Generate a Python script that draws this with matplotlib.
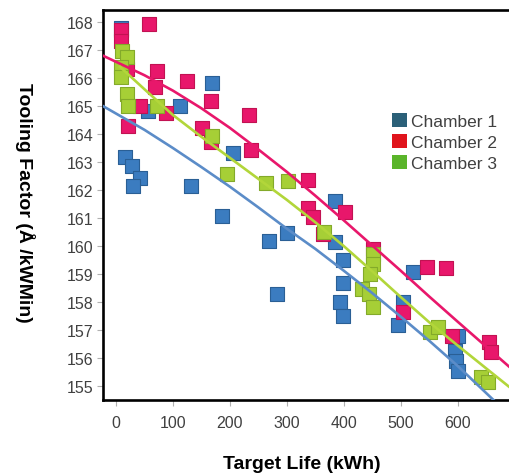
import numpy as np
import matplotlib.pyplot as plt
from matplotlib.patches import Patch

plt.rcParams['font.family'] = ['Liberation Sans', 'DejaVu Sans']

# 測定点 (Target Life [kWh], Tooling Factor)
ch1_x = [9, 168, 112, 56, 205, 16, 28, 42, 30, 132, 186, 268, 300, 282,
         384, 384, 398, 398, 393, 398, 521, 504, 495, 600, 595, 598, 600]
ch1_y = [167.8, 165.82, 165.0, 164.82, 163.32, 163.18, 162.86, 162.43, 162.14,
         162.14, 161.07, 160.18, 160.46, 158.29, 161.61, 160.14, 159.5, 158.68,
         158.0, 157.5, 159.07, 158.0, 157.18, 156.79, 156.25, 155.89, 155.54]

ch2_x = [9, 9, 58, 19, 72, 125, 68, 42, 88, 21, 167, 233, 151, 167, 237,
         337, 337, 346, 402, 363, 451, 546, 579, 505, 591, 656, 658]
ch2_y = [167.71, 167.32, 167.93, 166.32, 166.25, 165.89, 165.68, 165.0, 164.75,
         164.29, 165.18, 164.68, 164.21, 163.71, 163.43, 162.36, 161.36, 161.04,
         161.21, 160.43, 159.89, 159.25, 159.21, 157.64, 156.79, 156.57, 156.21]

ch3_x = [11, 19, 9, 9, 19, 21, 72, 168, 195, 263, 302, 365, 451, 451, 446,
         433, 444, 451, 551, 565, 642, 653]
ch3_y = [166.96, 166.75, 166.39, 166.04, 165.43, 165.0, 165.0, 163.93, 162.57,
         162.25, 162.32, 160.5, 159.71, 159.36, 159.0, 158.46, 158.29, 157.82,
         156.93, 157.11, 155.32, 155.14]

# 平滑化曲線
fit1_x = [-23, 50, 100, 150, 200, 250, 300, 350, 400, 450, 500, 550, 600, 661, 690]
fit1_y = [165.0, 164.15, 163.5, 162.82, 162.12, 161.38, 160.62, 159.9,
          159.12, 158.32, 157.48, 156.62, 155.72, 154.54, 154.0]
fit2_x = [-23, 50, 100, 150, 200, 250, 300, 350, 400, 450, 500, 550, 600, 690]
fit2_y = [166.8, 166.1, 165.55, 164.92, 164.22, 163.45, 162.65, 161.8,
          160.92, 160.02, 159.12, 158.2, 157.3, 155.7]
fit3_x = [7, 50, 100, 150, 200, 250, 300, 350, 400, 450, 500, 550, 600, 690]
fit3_y = [166.4, 165.6, 164.68, 163.9, 163.15, 162.4, 161.65, 160.85,
          160.0, 159.1, 158.18, 157.28, 156.45, 154.98]

labels = ['Chamber 1', 'Chamber 2', 'Chamber 3']
legend_colors = ['#2b6078', '#e0141c', '#5ab52a']
x_ticks = [0, 100, 200, 300, 400, 500, 600]
y_ticks = list(range(155, 169))

fig = plt.figure(figsize=(5.1, 4.77), dpi=100)
ax = fig.add_axes([103 / 510, 1 - 401 / 477, 432 / 510, 390 / 477])

# 散布図
ax.scatter(ch1_x, ch1_y, marker='s', s=96, c='#3b7cc0', edgecolors='#2a5f95',
           linewidths=0.8, zorder=2)
ax.scatter(ch2_x, ch2_y, marker='s', s=96, c='#e8176b', edgecolors='#c21252',
           linewidths=0.8, zorder=3)
ax.scatter(ch3_x, ch3_y, marker='s', s=96, c='#a6cf36', edgecolors='#83aa2a',
           linewidths=0.8, zorder=4)

# トレンドライン
ax.plot(fit1_x, fit1_y, color='#5b8cc8', lw=1.9, zorder=5)
ax.plot(fit2_x, fit2_y, color='#e8176b', lw=1.9, zorder=5)
ax.plot(fit3_x, fit3_y, color='#b2d63a', lw=1.9, zorder=5)

ax.set_xlim(-22.8, 736)
ax.set_ylim(154.5, 168.43)
ax.set_xticks(x_ticks)
ax.set_yticks(y_ticks)
ax.tick_params(axis='both', colors='#b0b0b0', labelcolor='#404040',
               labelsize=11.5, length=4, width=0.8)
ax.tick_params(axis='x', pad=7)
ax.tick_params(axis='y', pad=3)
for s in ['left', 'bottom', 'top']:
    ax.spines[s].set_linewidth(1.9)
ax.spines['right'].set_visible(False)

fig.text(25 / 510, 1 - 203 / 477, 'Tooling Factor (Å /kWMin)', rotation=-90,
         ha='center', va='center', fontsize=14, fontweight='bold')
fig.text(302 / 510, 1 - 465 / 477, 'Target Life (kWh)', ha='center',
         va='center', fontsize=14, fontweight='bold')

# 凡例
handles = [Patch(facecolor=c, edgecolor='none') for c in legend_colors]
fig.legend(handles, labels, loc='upper left',
           bbox_to_anchor=(380 / 510, 1 - 102 / 477), frameon=False,
           fontsize=12.5, handlelength=0.85, handleheight=0.85, handletextpad=0.25,
           labelspacing=0.3, borderpad=0.2, labelcolor='#404040')

fig.savefig('out.png', dpi=100)
